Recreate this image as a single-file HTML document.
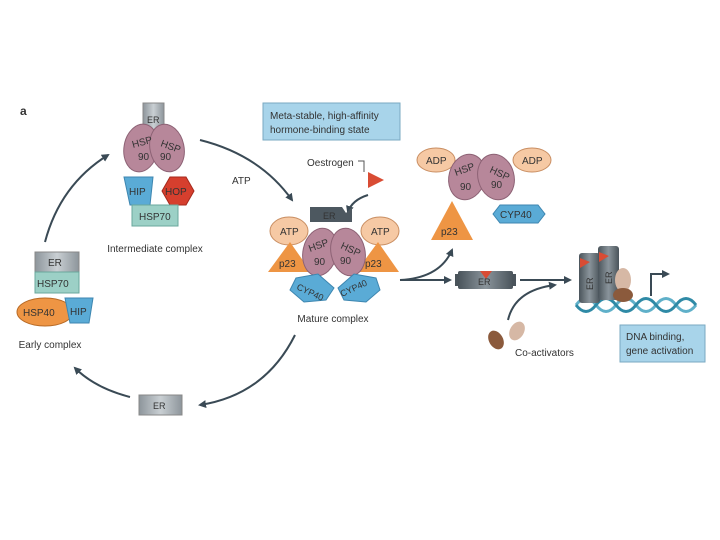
<!DOCTYPE html>
<html><head><meta charset="utf-8"><style>
html,body{margin:0;padding:0;background:#fff;width:720px;height:540px;overflow:hidden}
svg{display:block}
text{font-family:"Liberation Sans",sans-serif;fill:#333}
</style></head><body>
<svg width="720" height="540" viewBox="0 0 720 540" xmlns="http://www.w3.org/2000/svg">
<defs>
<marker id="ah" markerWidth="8" markerHeight="8" refX="6" refY="4" orient="auto" markerUnits="userSpaceOnUse"><path d="M0,0 L8,4 L0,8 Z" fill="#3a4a55"/></marker>
<linearGradient id="gr" x1="0" x2="1"><stop offset="0" stop-color="#8d959b"/><stop offset=".5" stop-color="#c9cfd3"/><stop offset="1" stop-color="#8d959b"/></linearGradient>
<linearGradient id="dg" x1="0" x2="1"><stop offset="0" stop-color="#4a545b"/><stop offset=".5" stop-color="#8a949b"/><stop offset="1" stop-color="#4a545b"/></linearGradient>
</defs>
<g stroke="#3a4a55" stroke-width="2" fill="none" marker-end="url(#ah)">
<path d="M45,242 Q60,185 108,155"/>
<path d="M200,140 Q260,155 292,200"/>
<path d="M295,335 Q265,395 200,405"/>
<path d="M130,397 Q95,388 75,368"/>
<path d="M368,195 Q352,200 348,212"/>
<path d="M400,280 Q440,278 452,250"/>
<path d="M400,280 L450,280"/>
<path d="M520,280 L570,280"/>
<path d="M508,320 Q515,290 555,285"/>
<path d="M651,296 L651,274 L668,274"/>
</g>
<text x="20" y="115" font-size="12" font-weight="bold">a</text>
<!-- Intermediate -->
<rect x="143" y="103" width="21" height="34" fill="url(#gr)" stroke="#888"/>
<text x="147" y="123" font-size="9">ER</text>
<ellipse cx="141" cy="148" rx="17" ry="24" fill="#b7879a" stroke="#8d6275" transform="rotate(10 141 148)"/>
<ellipse cx="167" cy="148" rx="17" ry="24" fill="#b7879a" stroke="#8d6275" transform="rotate(-12 167 148)"/>
<text x="133" y="148" font-size="10" transform="rotate(-15 133 148)">HSP</text><text x="138" y="160" font-size="10">90</text>
<text x="160" y="146" font-size="10" transform="rotate(20 160 146)">HSP</text><text x="160" y="160" font-size="10">90</text>
<polygon points="124,177 153,177 150,205 130,205" fill="#5aabd6" stroke="#3d86b0"/>
<text x="129" y="195" font-size="10">HIP</text>
<polygon points="170,177 186,177 194,191 186,205 170,205 162,191" fill="#d63f2e" stroke="#a5291c"/>
<text x="165" y="195" font-size="10">HOP</text>
<rect x="132" y="205" width="46" height="21" fill="#9cd0c6" stroke="#6aa79c"/>
<text x="139" y="220" font-size="10">HSP70</text>
<text x="155" y="252" font-size="10" text-anchor="middle">Intermediate complex</text>
<!-- Meta box -->
<rect x="263" y="103" width="137" height="37" fill="#a8d4ea" stroke="#7aa9c2"/>
<text x="270" y="119" font-size="10">Meta-stable, high-affinity</text>
<text x="270" y="133" font-size="10">hormone-binding state</text>
<text x="232" y="184" font-size="10">ATP</text>
<text x="307" y="166" font-size="10">Oestrogen</text>
<path d="M358,161 H364 V172" stroke="#555" fill="none"/>
<polygon points="368,172 384,180 368,188" fill="#d94c34"/>
<!-- Mature -->
<path d="M310,207 H342 L346,213 L352,207 V222 H310 Z" fill="#4d5860"/>
<text x="323" y="219" font-size="9" fill="#ccc">ER</text>
<ellipse cx="289" cy="231" rx="19" ry="14" fill="#f6c9a4" stroke="#c98e62"/>
<ellipse cx="380" cy="231" rx="19" ry="14" fill="#f6c9a4" stroke="#c98e62"/>
<text x="280" y="235" font-size="10">ATP</text><text x="371" y="235" font-size="10">ATP</text>
<polygon points="290,242 311,272 268,272" fill="#ee9544"/>
<polygon points="378,242 399,272 356,272" fill="#ee9544"/>
<text x="279" y="267" font-size="10">p23</text><text x="365" y="267" font-size="10">p23</text>
<ellipse cx="320" cy="252" rx="17" ry="24" fill="#b7879a" stroke="#8d6275" transform="rotate(12 320 252)"/>
<ellipse cx="348" cy="252" rx="17" ry="24" fill="#b7879a" stroke="#8d6275" transform="rotate(-12 348 252)"/>
<text x="310" y="252" font-size="10" transform="rotate(-20 310 252)">HSP</text><text x="314" y="265" font-size="10">90</text>
<text x="340" y="248" font-size="10" transform="rotate(25 340 248)">HSP</text><text x="340" y="264" font-size="10">90</text>
<polygon points="296,278 318,274 334,288 326,300 304,302 290,290" fill="#5aabd6" stroke="#3d86b0"/>
<polygon points="338,288 354,274 376,278 380,290 366,302 344,300" fill="#5aabd6" stroke="#3d86b0"/>
<text x="296" y="289" font-size="9" transform="rotate(25 296 289)">CYP40</text>
<text x="342" y="297" font-size="9" transform="rotate(-25 342 297)">CYP40</text>
<text x="333" y="322" font-size="10" text-anchor="middle">Mature complex</text>
<!-- Early -->
<rect x="35" y="252" width="44" height="20" fill="url(#gr)" stroke="#888"/>
<text x="48" y="266" font-size="10">ER</text>
<rect x="35" y="272" width="44" height="21" fill="#9cd0c6" stroke="#6aa79c"/>
<text x="37" y="287" font-size="10">HSP70</text>
<ellipse cx="45" cy="312" rx="28" ry="14" fill="#ee9544" stroke="#b86a25"/>
<text x="23" y="316" font-size="10">HSP40</text>
<polygon points="65,298 93,298 89,323 70,323" fill="#5aabd6" stroke="#3d86b0"/>
<text x="70" y="315" font-size="10">HIP</text>
<text x="50" y="348" font-size="10" text-anchor="middle">Early complex</text>
<rect x="139" y="395" width="43" height="20" fill="url(#gr)" stroke="#888"/>
<text x="153" y="409" font-size="9">ER</text>
<!-- right released -->
<ellipse cx="436" cy="160" rx="19" ry="12" fill="#f6c9a4" stroke="#c98e62"/>
<ellipse cx="532" cy="160" rx="19" ry="12" fill="#f6c9a4" stroke="#c98e62"/>
<text x="426" y="164" font-size="10">ADP</text><text x="522" y="164" font-size="10">ADP</text>
<ellipse cx="467" cy="177" rx="18" ry="23" fill="#b7879a" stroke="#8d6275" transform="rotate(15 467 177)"/>
<ellipse cx="496" cy="177" rx="18" ry="23" fill="#b7879a" stroke="#8d6275" transform="rotate(-15 496 177)"/>
<text x="456" y="176" font-size="10" transform="rotate(-20 456 176)">HSP</text><text x="460" y="190" font-size="10">90</text>
<text x="489" y="172" font-size="10" transform="rotate(25 489 172)">HSP</text><text x="491" y="188" font-size="10">90</text>
<polygon points="500,205 538,205 545,214 538,223 500,223 493,214" fill="#5aabd6" stroke="#3d86b0"/>
<text x="500" y="218" font-size="10">CYP40</text>
<polygon points="452,201 473,240 431,240" fill="#ee9544"/>
<text x="441" y="235" font-size="10">p23</text>
<rect x="458" y="271" width="55" height="18" rx="2" fill="url(#dg)"/>
<rect x="455" y="274" width="4" height="12" fill="#4a545b"/><rect x="512" y="274" width="4" height="12" fill="#4a545b"/>
<polygon points="480,271 492,271 486,279" fill="#d94c34"/>
<text x="478" y="285" font-size="9" fill="#ddd">ER</text>
<ellipse cx="496" cy="340" rx="7" ry="10" fill="#8b5a3c" transform="rotate(-30 496 340)"/>
<ellipse cx="517" cy="331" rx="7" ry="10" fill="#d6b8a5" transform="rotate(30 517 331)"/>
<text x="515" y="356" font-size="10">Co-activators</text>
<!-- DNA -->
<g stroke="#5fb0c9" stroke-width="3" fill="none">
<path d="M576,305 Q586,292 596,305 T616,305 T636,305 T656,305 T676,305 T696,305"/>
<path d="M576,305 Q586,318 596,305 T616,305 T636,305 T656,305 T676,305 T696,305" stroke="#2f8aa6"/>
</g>
<rect x="579" y="253" width="21" height="50" rx="3" fill="url(#dg)"/>
<rect x="598" y="246" width="21" height="54" rx="3" fill="url(#dg)"/>
<polygon points="580,258 590,262 580,268" fill="#d94c34"/>
<polygon points="599,252 609,256 599,262" fill="#d94c34"/>
<text x="593" y="290" font-size="9" fill="#ddd" transform="rotate(-90 593 290)">ER</text>
<text x="612" y="284" font-size="9" fill="#ddd" transform="rotate(-90 612 284)">ER</text>
<ellipse cx="623" cy="280" rx="8" ry="12" fill="#d6b8a5"/>
<ellipse cx="623" cy="295" rx="10" ry="7" fill="#8b5a3c"/>
<rect x="620" y="325" width="85" height="37" fill="#a8d4ea" stroke="#7aa9c2"/>
<text x="626" y="340" font-size="10">DNA binding,</text>
<text x="626" y="354" font-size="10">gene activation</text>
</svg>
</body></html>
